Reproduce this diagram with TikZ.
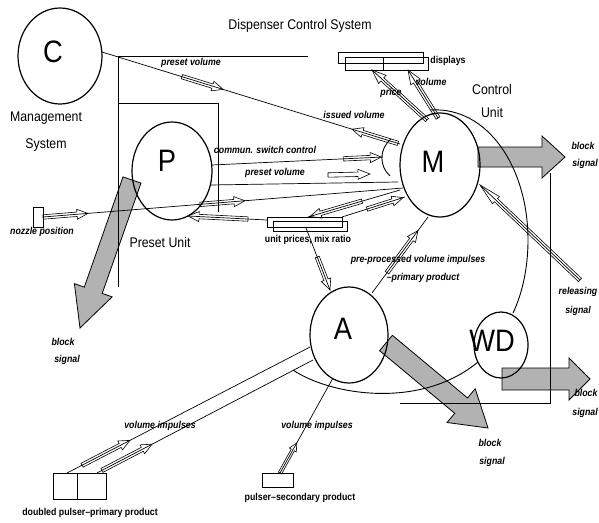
\documentclass[tikz,border=0pt]{standalone}
\usepackage{fontspec}
\setmainfont{Liberation Sans}
\newfontfamily\nf[FakeStretch=0.88]{Liberation Sans}
\usetikzlibrary{calc,shapes.geometric}
\newcommand\harrowon[7]{%
  \path ($(#1)!#3!(#2)$) coordinate (ha) ($(#1)!#4!(#2)$) coordinate (ht);
  \path ($(ht)!#7!(ha)$) coordinate (hb);
  \draw[hollow] ($(ha)!#5!90:(ht)$) -- ($(hb)!#5!90:(ht)$) -- ($(hb)!#6!90:(ht)$) -- (ht)
     -- ($(hb)!#6!-90:(ht)$) -- ($(hb)!#5!-90:(ht)$) -- ($(ha)!#5!-90:(ht)$) -- cycle;}
\newcommand\bigarrow[5]{%
  \path (#1) coordinate (ga) (#2) coordinate (gt);
  \path ($(gt)!#5!(ga)$) coordinate (gb);
  \draw[grayarr] ($(ga)!#3!90:(gt)$) -- ($(gb)!#3!90:(gt)$) -- ($(gb)!#4!90:(gt)$) -- (gt)
     -- ($(gb)!#4!-90:(gt)$) -- ($(gb)!#3!-90:(gt)$) -- ($(ga)!#3!-90:(gt)$) -- cycle;}
\begin{document}
\begin{tikzpicture}[x=1pt,y=-1pt,
 unit/.style={ellipse, draw, line width=1.2pt, inner sep=0pt, outer sep=0pt},
 letter/.style={font=\nf\fontsize{31}{31}\selectfont, inner sep=0pt},
 conn/.style={line width=0.7pt},
 frame/.style={line width=0.9pt},
 hollow/.style={line width=0.6pt, line join=miter},
 grayarr/.style={fill=gray!60, draw, line width=0.8pt, line join=miter},
 lbl/.style={font=\nf\bfseries\itshape\fontsize{10}{12}\selectfont, inner sep=0pt},
 lblu/.style={font=\nf\bfseries\fontsize{10}{12}\selectfont, inner sep=0pt},
 ttl/.style={font=\nf\fontsize{14}{16}\selectfont, inner sep=0pt},
 boxr/.style={draw, line width=0.7pt, inner sep=0pt, outer sep=0pt}]
\useasboundingbox (0,0) rectangle (599,522);

% gray block-signal arrows (underneath)
\coordinate (gPs) at (132,180); \coordinate (gPt) at (80,328);
\coordinate (gMs) at (478,157); \coordinate (gMt) at (565,157);
\coordinate (gAs) at (386,343); \coordinate (gAt) at (488,428);
\coordinate (gWs) at (502,379); \coordinate (gWt) at (590,379);
\bigarrow{gPs}{gPt}{9.5pt}{20pt}{40pt}
\bigarrow{gMs}{gMt}{10pt}{21pt}{23pt}
\bigarrow{gAs}{gAt}{10pt}{22pt}{35pt}
\bigarrow{gWs}{gWt}{11pt}{21pt}{21pt}

% frames
\draw[frame] (308,56) -- (118,56) -- (118,287);
\draw[frame] (118,103) -- (218,103) -- (218,212);
\draw[frame] (550,173) -- (550,403) -- (400,403);
% control unit outline
\draw[frame] (430,110) .. controls (488,106) and (528,168) .. (528,240)
   .. controls (528,266) and (523,292) .. (513,313);
\draw[frame] (293,370) .. controls (330,395) and (420,410) .. (478,362);
\draw[frame] (391,139) .. controls (379,149) and (379,166) .. (390,176);

% units
\node[unit, minimum width=84pt, minimum height=96pt,
  label={[letter, xshift=-7pt, yshift=4pt]center:C}] (C) at (60,56) {};
\node[unit, minimum width=80pt, minimum height=98pt,
  label={[letter, xshift=-5pt, yshift=10pt]center:P}] (P) at (172,171) {};
\node[unit, minimum width=80pt, minimum height=104pt,
  label={[letter, xshift=-7pt, yshift=3pt]center:M}] (M) at (440,165) {};
\node[unit, minimum width=78pt, minimum height=96pt,
  label={[letter, xshift=-6pt, yshift=6pt]center:A}] (A) at (349,335) {};
\node[unit, minimum width=54pt, minimum height=66pt,
  label={[letter, xshift=-9pt, yshift=4pt]center:WD}] (WD) at (501,345) {};

% boxes
\node[boxr, minimum width=10pt, minimum height=20pt] (noz) at (38,217) {};
\node[boxr, minimum width=85pt, minimum height=11pt] (disp1) at (380.5,57.5) {};
\node[boxr, minimum width=38pt, minimum height=13pt] (disp2) at (364,63.5) {};
\node[boxr, minimum width=45pt, minimum height=13pt] (disp3) at (405.5,63.5) {};
\node[boxr, minimum width=75pt, minimum height=10pt] (up1) at (304.5,222) {};
\node[boxr, minimum width=74pt, minimum height=10pt] (up2) at (310,226) {};
\node[boxr, minimum width=24pt, minimum height=26pt] (q1) at (65,486) {};
\node[boxr, minimum width=29pt, minimum height=26pt] (q2) at (91.5,486) {};
\node[boxr, minimum width=31pt, minimum height=14pt] (sec) at (277.5,480) {};

% connector end points
\coordinate (cC1) at (102,52);  \coordinate (cM1) at (400,144);
\coordinate (cP2) at (212,165); \coordinate (cM2) at (383,157);
\coordinate (cP3) at (210,185); \coordinate (cM3) at (398,182);
\coordinate (pv2a) at (328,175); \coordinate (pv2b) at (370,174);
\coordinate (cN) at (43,217);   \coordinate (cM4) at (403,188);
\coordinate (cB1) at (267,220); \coordinate (cP5) at (188,216);
\coordinate (cM6) at (400,190); \coordinate (cB2) at (308,217);
\coordinate (cB3) at (342,217); \coordinate (cM7) at (405,197);
\coordinate (cB4) at (306,228); \coordinate (cA8) at (330,290);
\coordinate (cA9) at (372,293); \coordinate (cM9) at (428,217);
\coordinate (cR) at (580,280);  \coordinate (cM10) at (480,185);
\coordinate (cM11) at (427,120); \coordinate (cD1) at (372,70);
\coordinate (cM12) at (438,118); \coordinate (cD2) at (408,70);
\coordinate (cQ1) at (67,473);  \coordinate (cA13) at (310,347);
\coordinate (cQ2) at (97,473);  \coordinate (cA14) at (313,360);
\coordinate (cS) at (280,473);  \coordinate (cA15) at (333,378);

% connectors
\draw[conn] (cC1) -- (cM1);
\draw[conn] (cP2) -- (cM2);
\draw[conn] (cP3) -- (cM3);
\draw[conn] (cN) -- (cM4);
\draw[conn] (cB1) -- (cP5);
\draw[conn] (cM6) -- (cB2);
\draw[conn] (cB3) -- (cM7);
\draw[conn] (cB4) -- (cA8);
\draw[conn] (cA9) -- (cM9);
\draw[conn] (cR) -- (cM10);
\draw[conn] (cM11) -- (cD1);
\draw[conn] (cM12) -- (cD2);
\draw[conn] (cQ1) -- (cA13);
\draw[conn] (cQ2) -- (cA14);
\draw[conn] (cS) -- (cA15);

% hollow arrows
\harrowon{cC1}{cM1}{0.268}{0.406}{2.2pt}{5pt}{11pt}
\harrowon{cC1}{cM1}{0.993}{0.839}{2.2pt}{5pt}{11pt}
\harrowon{cP2}{cM2}{0.77}{0.99}{2.2pt}{5pt}{11pt}
\harrowon{pv2a}{pv2b}{0}{1}{2.2pt}{5pt}{12pt}
\harrowon{cN}{cM4}{0}{0.125}{2.2pt}{5pt}{11pt}
\harrowon{cN}{cM4}{0.436}{0.561}{2.2pt}{5pt}{11pt}
\harrowon{cB1}{cP5}{0.24}{1}{2.2pt}{5pt}{11pt}
\harrowon{cM6}{cB2}{0.413}{0.978}{2.2pt}{5pt}{11pt}
\harrowon{cB3}{cM7}{0.397}{0.968}{2.2pt}{5pt}{11pt}
\harrowon{cB4}{cA8}{0.468}{1}{2.2pt}{5pt}{11pt}
\harrowon{cA9}{cM9}{0.268}{0.821}{2.2pt}{5pt}{11pt}
\harrowon{cR}{cM10}{0}{1}{2.2pt}{5pt}{22pt}
\harrowon{cM11}{cD1}{0}{1}{2.2pt}{5.5pt}{14pt}
\harrowon{cM12}{cD2}{0}{1}{2.2pt}{5.5pt}{14pt}
\harrowon{cQ1}{cA13}{0.062}{0.259}{2.2pt}{5pt}{11pt}
\harrowon{cQ2}{cA14}{0.023}{0.255}{2.2pt}{5pt}{11pt}
\harrowon{cS}{cA15}{0}{0.316}{1.8pt}{4pt}{8pt}

% texts
\node[ttl] (title) at (300,26) {Dispenser Control System};
\node[ttl, align=center, font=\nf\fontsize{14}{27}\selectfont] (mgmt) at (46,132) {Management\\System};
\node[ttl, align=center, font=\nf\fontsize{14}{23}\selectfont] (cunit) at (492,101) {Control\\Unit};
\node[ttl] (punit) at (160,242) {Preset Unit};
\node[lbl] (t1) at (191,63) {preset volume};
\node[lbl] (t2) at (354,115) {issued volume};
\node[lbl] (t3) at (265,150) {commun. switch control};
\node[lbl] (t4) at (275,173) {preset volume};
\node[lbl] (t5) at (42,232) {nozzle position};
\node[lblu] (t6) at (308,240) {unit prices, mix ratio};
\node[lbl] (t7) at (418,260) {pre-processed volume impulses};
\node[lbl] (t8) at (423,278) {–primary product};
\node[lblu] (t9) at (448,61) {displays};
\node[lbl] (t10) at (391,93) {price};
\node[lbl] (t11) at (431,82) {volume};
\node[lbl] (t12) at (578,292) {releasing};
\node[lbl] (t13) at (578,311) {signal};
\node[lbl] (t14) at (583,146) {block};
\node[lbl] (t15) at (585,164) {signal};
\node[lbl] (t16) at (63,342) {block};
\node[lbl] (t17) at (67,360) {signal};
\node[lbl] (t18) at (490,443) {block};
\node[lbl] (t19) at (492,462) {signal};
\node[lbl] (t20) at (586,393) {block};
\node[lbl, anchor=east] (t21) at (598,413) {signal};
\node[lbl] (t22) at (160,426) {volume impulses};
\node[lbl] (t23) at (317,426) {volume impulses};
\node[lblu] (t24) at (90,513) {doubled pulser–primary product};
\node[lblu] (t25) at (300,498) {pulser–secondary product};
\end{tikzpicture}
\end{document}
